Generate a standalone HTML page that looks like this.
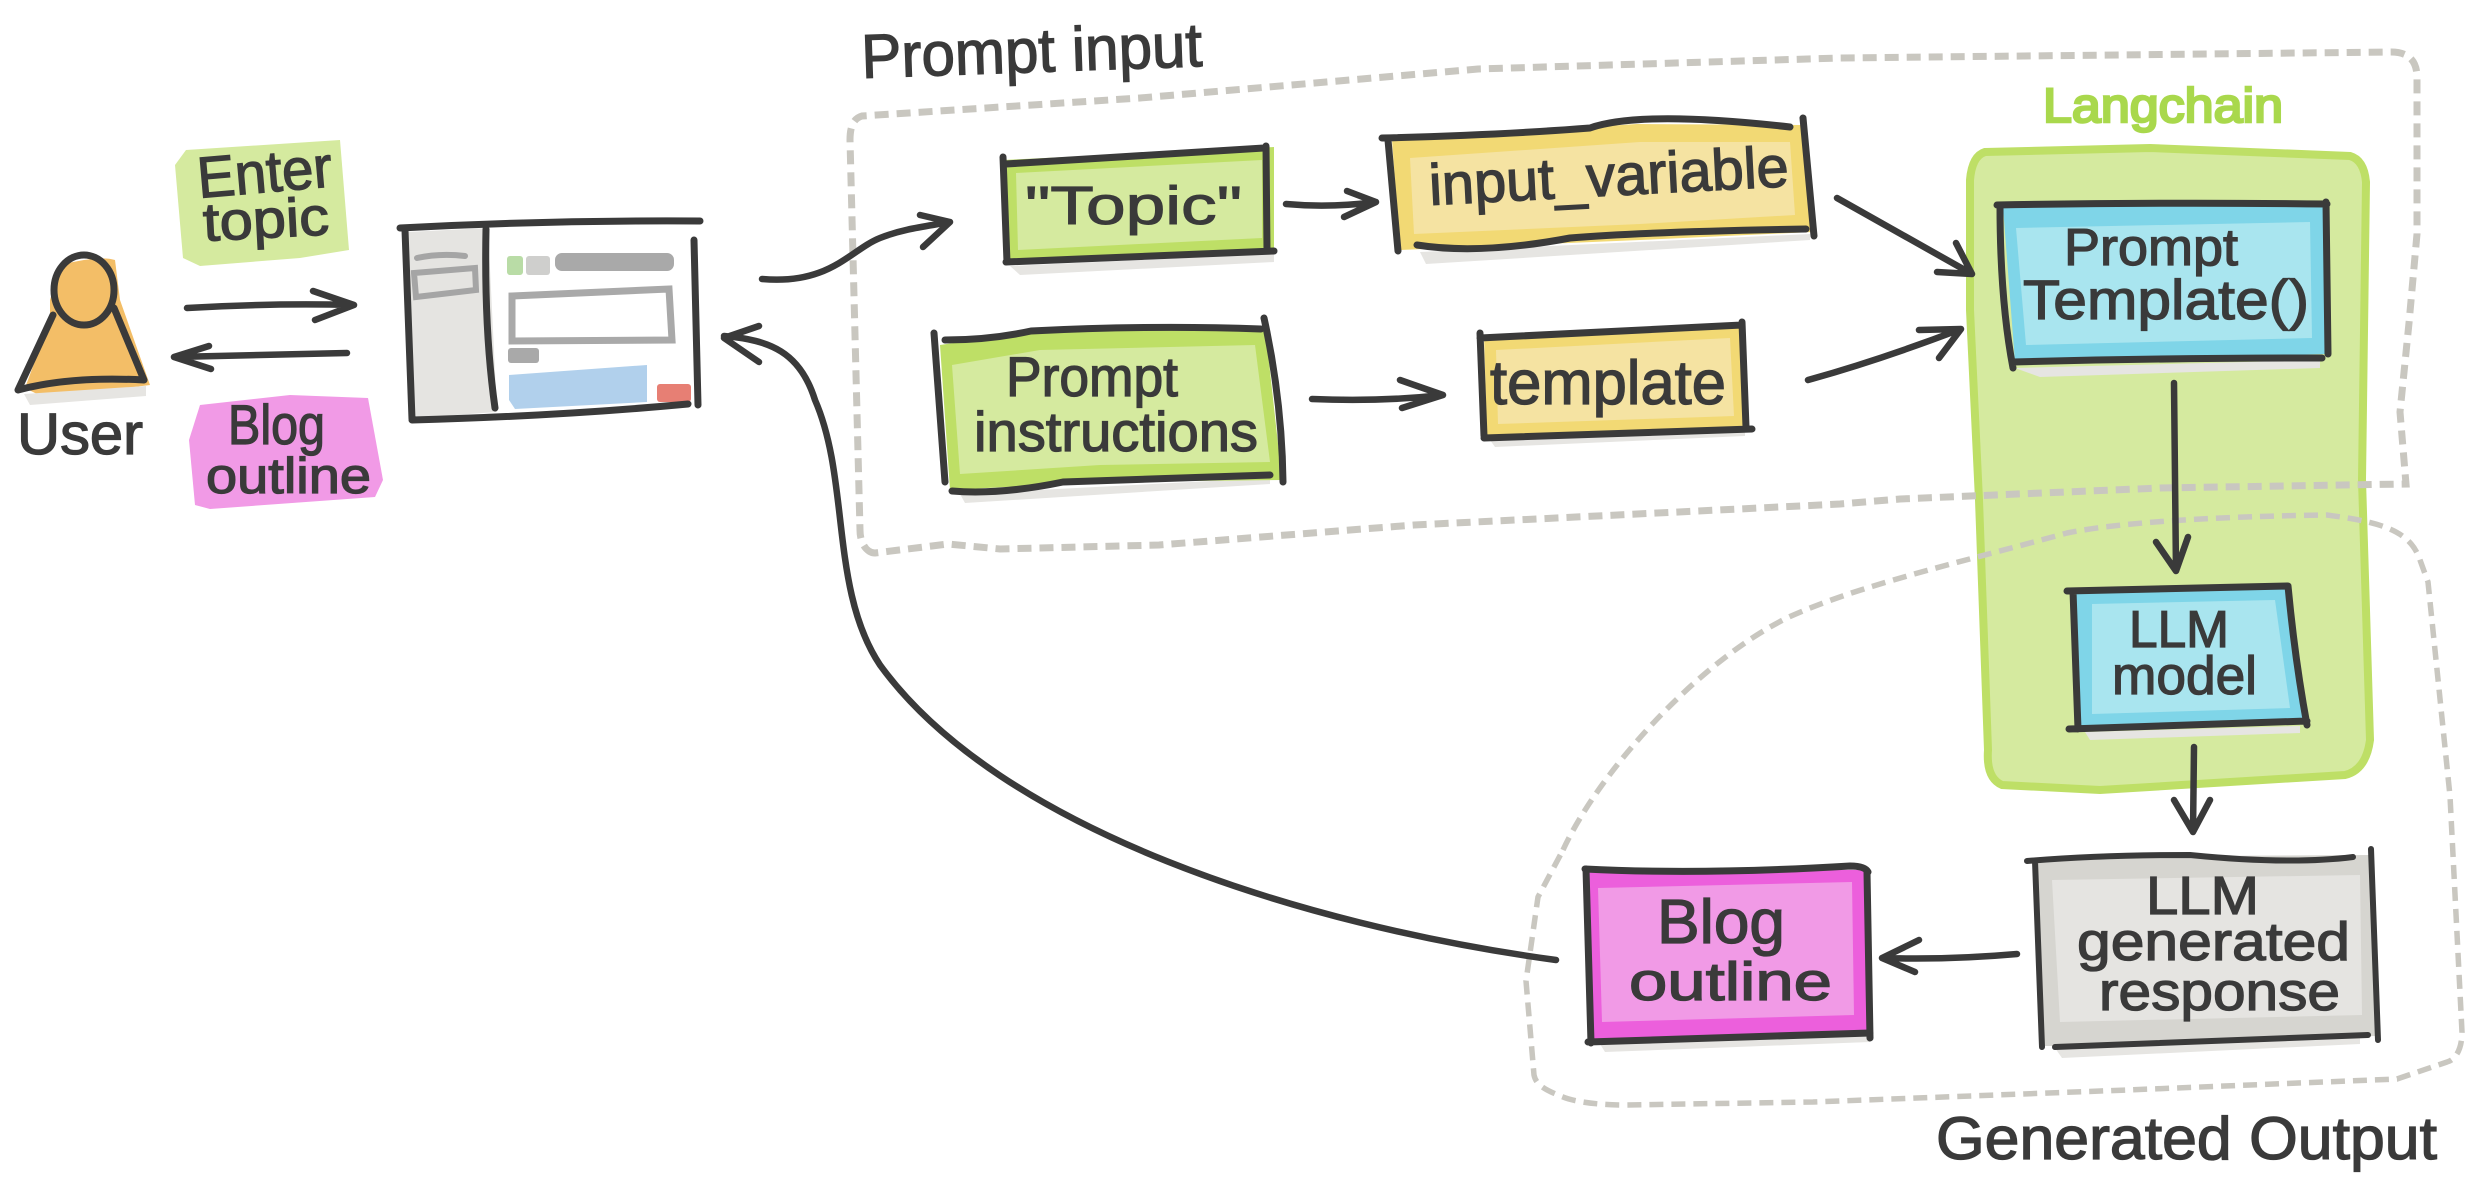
<!DOCTYPE html>
<html><head><meta charset="utf-8"><title>Langchain prompt flow</title>
<style>
html,body{margin:0;padding:0;background:#fff}
svg{display:block}
.t{font-family:"Liberation Sans",sans-serif;fill:#3a3a3a;stroke:#3a3a3a;stroke-width:1.3}
.l{fill:none;stroke:#3a3a3a;stroke-width:7;stroke-linecap:round;stroke-linejoin:round}
.a{fill:none;stroke:#3a3a3a;stroke-width:6.5;stroke-linecap:round;stroke-linejoin:round}
.d{fill:none;stroke:#c9c7c0;stroke-width:7;stroke-dasharray:14 8}
.s{fill:#e6e5e2}
</style></head><body>
<svg xmlns="http://www.w3.org/2000/svg" width="2483" height="1199" viewBox="0 0 2483 1199">
<rect width="2483" height="1199" fill="#fff"/>

<!-- langchain -->
<path d="M1985 152L2150 148L2350 156Q2364 160 2366 182L2362 480L2370 740Q2366 770 2345 775L2100 790L2002 785Q1986 778 1988 750L1979 500L1970 310L1970 180Q1972 156 1985 152Z" fill="#d5ea9f" stroke="#bedf66" stroke-width="8"/>
<text class="t" x="2043" y="122" font-size="48" textLength="240" lengthAdjust="spacingAndGlyphs" style="fill:#a9d84c;stroke:#a9d84c;stroke-width:2.5">Langchain</text>

<!-- dashed regions -->
<path class="d" d="M875 553C868 553 860 545 860 530L850 140C850 124 855 118 862 116L1140 98L1478 69L1840 58L2391 52C2408 52 2416 60 2417 75L2417 234L2409 323L2400 412L2406 484L2160 488L1900 499L1840 504L1414 525L1159 545L1000 549L948 544Z"/>
<path class="d" style="stroke-width:5.5" d="M1563 850C1600 770 1700 660 1789 617C1860 585 1950 565 2067 533C2130 520 2250 516 2327 515C2380 522 2410 530 2420 560L2428 582L2450 796L2462 1032C2462 1050 2455 1060 2447 1062L2397 1079L2127 1090L1813 1102L1625 1105C1590 1105 1570 1100 1563 1097C1545 1090 1536 1085 1534 1075L1526 981L1538 897Z"/>

<!-- user -->
<path d="M50 320L25 388L45 398L150 385L120 300L115 260Q100 255 60 265L50 300Z" fill="#f3be67"/>
<path d="M24 394L146 386L146 396L30 405Z" fill="#e6e5e2"/>
<path class="l" d="M53 315L18 390Q70 376 144 380L114 308"/>
<ellipse class="l" cx="84" cy="290" rx="30" ry="35"/>
<text class="t" x="17" y="454" font-size="58" textLength="126" lengthAdjust="spacingAndGlyphs">User</text>

<!-- enter topic -->
<path d="M186 150L340 140L349 250L300 258L200 266L183 258L175 165Z" fill="#d5ea9f"/>
<text class="t" x="199" y="198" font-size="58" textLength="135" lengthAdjust="spacingAndGlyphs" transform="rotate(-5 199 198)">Enter</text>
<text class="t" x="204" y="241" font-size="54" textLength="126" lengthAdjust="spacingAndGlyphs" transform="rotate(-3 204 241)">topic</text>
<path class="a" d="M187 308Q270 303 354 305M313 291L354 305L315 320"/>
<path class="a" d="M347 353L174 357M209 346L174 357L211 369"/>

<!-- blog outline small -->
<path d="M200 405L290 395L368 398L383 480L375 497L210 509L195 505L189 440Z" fill="#f19ae6"/>
<text class="t" x="228" y="444" font-size="56" textLength="97" lengthAdjust="spacingAndGlyphs">Blog</text>
<text class="t" x="206" y="493" font-size="50" textLength="165" lengthAdjust="spacingAndGlyphs">outline</text>

<!-- screen -->
<path d="M407 232L488 228L497 412L414 418Z" fill="#e5e4e1"/>
<rect x="507" y="256" width="16" height="19" rx="3" fill="#b9dca6"/>
<rect x="526" y="256" width="24" height="19" rx="3" fill="#cfcfcd"/>
<rect x="555" y="253" width="119" height="18" rx="7" fill="#a9a9a9"/>
<path d="M512 296L669 289L672 340L512 341Z" fill="none" stroke="#a9a9a9" stroke-width="7"/>
<rect x="508" y="348" width="31" height="15" rx="3" fill="#a9a9a9"/>
<path d="M509 375L647 365L647 402L515 409L509 400Z" fill="#b1d0ec"/>
<rect x="657" y="384" width="34" height="18" rx="3" fill="#e77f74"/>
<path d="M417 258Q440 253 465 256" fill="none" stroke="#a5a5a5" stroke-width="6" stroke-linecap="round"/>
<path d="M414 273L475 268L476 290L416 297Z" fill="none" stroke="#a5a5a5" stroke-width="6"/>
<path class="l" d="M400 228Q550 220 700 221M405 230L412 419M412 420Q560 416 688 404M694 240L698 405M486 229Q484 330 495 408"/>

<!-- screen to topic -->
<path class="a" d="M762 279C830 285 850 250 880 238C905 228 930 226 950 222M920 215L950 222L923 247"/>

<!-- Topic -->
<path class="s" d="M1010 266L1274 254L1274 262L1020 275Z"/>
<path d="M1003 160L1274 147L1274 251L1006 262Z" fill="#bedf66"/>
<path d="M1016 173L1262 160L1262 238L1018 250Z" fill="#d5ea9f"/>
<path class="l" d="M1003 157L1007 262M1006 164L1264 148M1266 146L1267 250M1006 262L1274 251"/>
<text class="t" x="1025" y="224" font-size="54" textLength="217" lengthAdjust="spacingAndGlyphs" style="stroke-width:1">"Topic"</text>
<path class="a" d="M1286 204Q1330 208 1376 202M1347 191L1376 202L1344 217"/>

<!-- input_variable -->
<path class="s" d="M1420 252L1810 234L1810 240L1426 264Z"/>
<path d="M1392 140L1637 124L1806 125L1812 232L1640 240L1400 250Z" fill="#f2d974"/>
<path d="M1410 158L1640 142L1790 142L1795 215L1640 224L1414 234Z" fill="#f5e3a2"/>
<path class="l" d="M1382 138Q1500 135 1590 128Q1640 110 1790 127M1388 140L1398 251M1417 245Q1480 255 1570 238Q1640 232 1806 229M1803 118L1814 236"/>
<text class="t" x="1430" y="205" font-size="58" textLength="360" lengthAdjust="spacingAndGlyphs" transform="rotate(-3 1430 205)">input_variable</text>
<path class="a" d="M1837 198L1972 274M1956 243L1972 274L1937 272"/>

<!-- Prompt instructions -->
<path class="s" d="M960 494L1270 478L1270 484L965 503Z"/>
<path d="M940 345L1040 330L1265 326L1282 480L1100 482L950 490Z" fill="#bedf66"/>
<path d="M952 365L1040 350L1255 345L1270 462L1100 465L960 474Z" fill="#d5ea9f"/>
<path class="l" d="M934 333L945 482M945 340Q990 340 1031 331Q1150 325 1261 329M1264 318Q1282 400 1283 482M952 491Q1000 495 1063 482L1270 475"/>
<text class="t" x="1006" y="396" font-size="56" textLength="172" lengthAdjust="spacingAndGlyphs">Prompt</text>
<text class="t" x="974" y="451" font-size="56" textLength="284" lengthAdjust="spacingAndGlyphs">instructions</text>
<path class="a" d="M1312 399Q1380 402 1443 395M1400 380L1443 395L1402 408"/>

<!-- template -->
<path class="s" d="M1490 440L1745 430L1745 436L1495 447Z"/>
<path d="M1484 337L1742 325L1748 428L1487 436Z" fill="#f2d974"/>
<path d="M1496 350L1730 338L1734 416L1498 424Z" fill="#f5e3a2"/>
<path class="l" d="M1480 333L1484 436M1480 338L1742 325M1742 322L1746 427M1484 438L1752 429"/>
<text class="t" x="1490" y="404" font-size="62" textLength="236" lengthAdjust="spacingAndGlyphs">template</text>
<path class="a" d="M1808 380Q1880 360 1961 329M1919 330L1961 329L1939 358"/>

<!-- Prompt Template -->
<path d="M2015 368L2320 360L2320 368L2040 377Z" fill="#e6e5e2"/>
<path d="M2003 207L2325 204L2325 354L2015 362Z" fill="#7fd5e8"/>
<path d="M2016 228L2310 222L2312 338L2026 345Z" fill="#a9e5ef"/>
<path class="l" d="M1997 205Q2160 202 2327 204M2000 205Q2000 300 2013 368M2326 202L2328 354M2013 362Q2160 358 2322 358"/>
<text class="t" x="2064" y="265" font-size="52" textLength="174" lengthAdjust="spacingAndGlyphs">Prompt</text>
<text class="t" x="2023" y="319" font-size="56" textLength="286" lengthAdjust="spacingAndGlyphs">Template()</text>
<path class="a" d="M2174 383L2176 571M2156 542L2176 571L2188 537"/>

<!-- LLM model -->
<path d="M2085 732L2300 726L2300 733L2090 740Z" fill="#e6e5e2"/>
<path d="M2076 592L2286 588L2304 722L2080 728Z" fill="#7fd5e8"/>
<path d="M2092 604L2275 600L2290 708L2092 714Z" fill="#a9e5ef"/>
<path class="l" d="M2067 591L2288 586M2073 591L2078 729M2288 586Q2295 660 2307 725M2069 729L2307 721"/>
<text class="t" x="2129" y="647" font-size="52" textLength="100" lengthAdjust="spacingAndGlyphs">LLM</text>
<text class="t" x="2112" y="694" font-size="54" textLength="145" lengthAdjust="spacingAndGlyphs">model</text>
<path class="a" d="M2194 747L2193 832M2174 800L2193 832L2210 800"/>

<!-- LLM generated response -->
<path class="s" d="M2055 1048L2360 1036L2360 1044L2062 1058Z"/>
<path d="M2036 862L2190 856L2370 855L2376 1036L2055 1046L2040 1046Z" fill="#d6d5d0"/>
<path d="M2052 880L2360 875L2362 1015L2060 1022Z" fill="#e5e4e1"/>
<path class="l" style="stroke-width:6" d="M2027 861Q2100 855 2190 855Q2290 865 2353 857M2035 861L2042 1047M2371 849L2378 1040M2055 1047L2368 1035"/>
<text class="t" x="2146" y="914" font-size="54" textLength="113" lengthAdjust="spacingAndGlyphs">LLM</text>
<text class="t" x="2077" y="960" font-size="54" textLength="273" lengthAdjust="spacingAndGlyphs">generated</text>
<text class="t" x="2099" y="1010" font-size="54" textLength="241" lengthAdjust="spacingAndGlyphs">response</text>
<path class="a" d="M2017 954Q1950 960 1882 958M1919 940L1882 958L1915 972"/>

<!-- Blog outline large -->
<path class="s" d="M1600 1044L1870 1034L1870 1042L1605 1052Z"/>
<path d="M1585 869L1868 870L1870 1034L1590 1042Z" fill="#ec5fdc"/>
<path d="M1598 888L1852 882L1854 1015L1602 1022Z" fill="#f19ae6"/>
<path class="l" d="M1585 869Q1700 875 1850 866Q1865 866 1868 872M1586 869L1591 1043M1867 872L1870 1038M1588 1042L1870 1033"/>
<text class="t" x="1657" y="943" font-size="62" textLength="128" lengthAdjust="spacingAndGlyphs">Blog</text>
<text class="t" x="1629" y="1000" font-size="54" textLength="203" lengthAdjust="spacingAndGlyphs">outline</text>

<!-- return arrow -->
<path class="a" d="M1556 960C1300 925 1000 830 880 665C830 590 850 480 815 400C800 352 770 340 724 336M759 326L724 338L759 362"/>

<!-- labels -->
<text class="t" x="862" y="78" font-size="62" textLength="341" lengthAdjust="spacingAndGlyphs" transform="rotate(-2 862 78)">Prompt input</text>
<text class="t" x="1936" y="1159" font-size="60" textLength="501" lengthAdjust="spacingAndGlyphs">Generated Output</text>
</svg>
</body></html>
